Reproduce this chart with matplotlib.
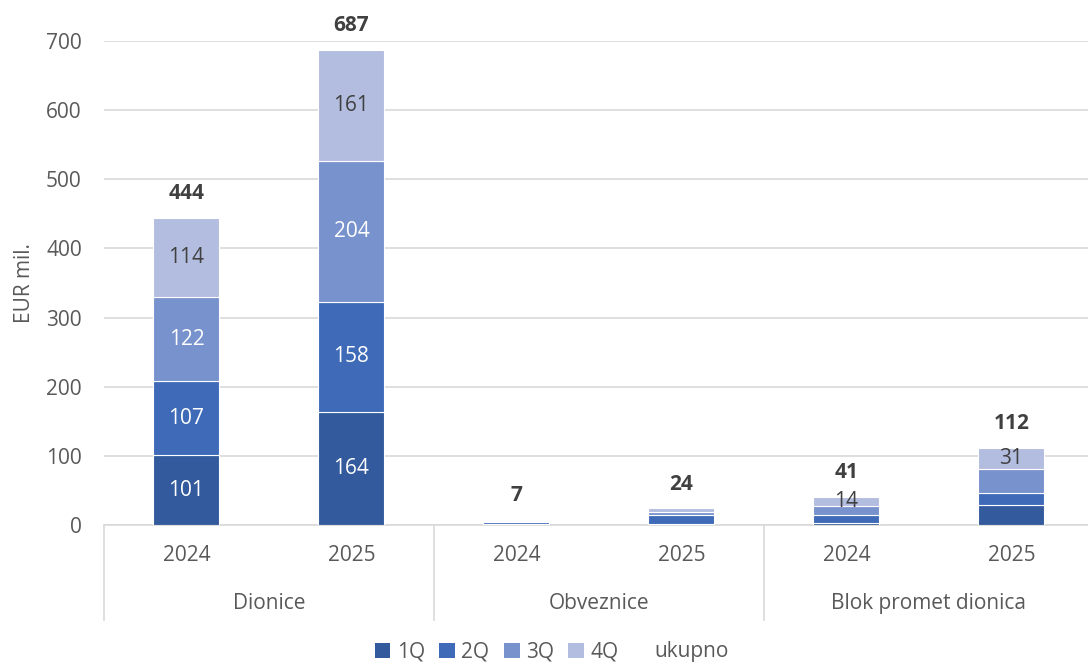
import matplotlib.pyplot as plt
from matplotlib.patches import Patch
import numpy as np

plt.rcParams['font.family'] = ['Open Sans', 'DejaVu Sans']

# Kategorije
groups = ["Dionice", "Obveznice", "Blok promet dionica"]
years = ["2024", "2025", "2024", "2025", "2024", "2025"]
quarters = ["1Q", "2Q", "3Q", "4Q"]

# Vrijednosti po kvartalima (EUR mil.)
q1 = [101, 164, 1, 2, 3, 29]
q2 = [107, 158, 3, 13, 11, 17]
q3 = [122, 204, 2, 4, 13, 35]
q4 = [114, 161, 1, 5, 14, 31]
totals = [444, 687, 7, 24, 41, 112]

# koji segmenti imaju oznaku
show_label = [
    [True, True, False, False, False, False],
    [True, True, False, False, False, False],
    [True, True, False, False, False, False],
    [True, True, False, False, True, True],
]

colors = ["#325a9c", "#3e6ab8", "#7892cd", "#b3bde0"]
label_colors = ["white", "white", "white", "#404040"]
text_gray = "#595959"
fs = 15

fig = plt.figure(figsize=(10.88, 6.64), dpi=100)
ax = fig.add_axes([104 / 1088, 139 / 664, 990 / 1088, 484 / 664])

x = np.arange(len(years))
series = [q1, q2, q3, q4]
bottom = np.zeros(len(years))
for i, vals in enumerate(series):
    bars = ax.bar(x, vals, width=0.4, bottom=bottom, color=colors[i],
                  edgecolor="white", linewidth=0.8, zorder=3)
    for j, b in enumerate(bars):
        if show_label[i][j]:
            ax.text(b.get_x() + b.get_width() / 2, bottom[j] + vals[j] / 2,
                    str(vals[j]), ha="center", va="center",
                    color=label_colors[i], fontsize=fs, zorder=4)
    bottom += np.array(vals)

# ukupno iznad stupaca
for j, t in enumerate(totals):
    ax.text(x[j], t + 20, str(t), ha="center", va="bottom",
            fontsize=fs, fontweight="bold", color="#404040", clip_on=False)

ax.set_xlim(-0.5, 5.5)
ax.set_ylim(0, 700)
ax.set_yticks(range(0, 701, 100))
ax.grid(axis="y", color="#d9d9d9", linewidth=1.2, zorder=0)
ax.set_axisbelow(True)
for s in ["top", "right", "left"]:
    ax.spines[s].set_visible(False)
ax.spines["bottom"].set_color("#d9d9d9")
ax.spines["bottom"].set_linewidth(1.2)
ax.tick_params(axis="y", length=0, labelsize=fs, labelcolor=text_gray, pad=16)
ax.set_xticks([])
ax.set_ylabel("EUR mil.", fontsize=fs, color=text_gray, labelpad=8)

# dvije razine oznaka na x osi
trans = ax.get_xaxis_transform()
for j, y in enumerate(years):
    ax.text(x[j], -0.062, y, transform=trans, ha="center", va="center",
            fontsize=fs, color=text_gray)
for g, name in enumerate(groups):
    ax.text(2 * g + 0.5, -0.163, name, transform=trans, ha="center",
            va="center", fontsize=fs, color=text_gray)
for xs in [-0.5, 1.5, 3.5]:
    ax.plot([xs, xs], [0, -0.196], transform=trans, color="#d9d9d9",
            linewidth=1.2, clip_on=False)

handles = [Patch(facecolor=c) for c in colors]
handles.append(Patch(facecolor="none", edgecolor="none"))
fig.legend(handles, quarters + ["ukupno"], loc="center", ncol=5,
           bbox_to_anchor=(552 / 1088, 1 - 652 / 664), frameon=False,
           fontsize=fs, labelcolor=text_gray, handlelength=0.75,
           handleheight=0.75, handletextpad=0.3, columnspacing=0.7)

fig.savefig("out.png", dpi=100)
